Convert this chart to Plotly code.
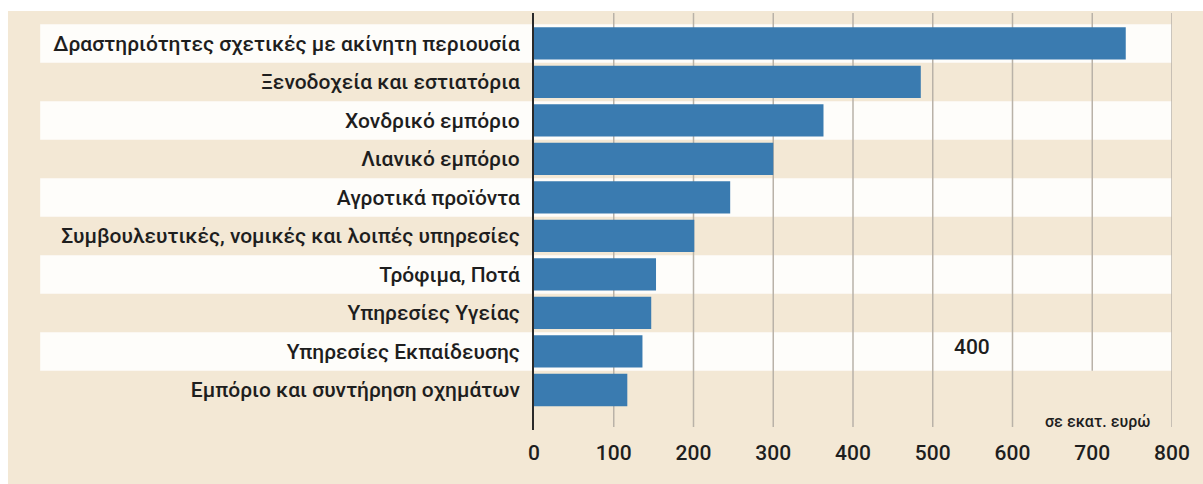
import plotly.graph_objects as go

categories = [
    "Δραστηριότητες σχετικές με ακίνητη περιουσία",
    "Ξενοδοχεία και εστιατόρια",
    "Χονδρικό εμπόριο",
    "Λιανικό εμπόριο",
    "Αγροτικά προϊόντα",
    "Συμβουλευτικές, νομικές και λοιπές υπηρεσίες",
    "Τρόφιμα, Ποτά",
    "Υπηρεσίες Υγείας",
    "Υπηρεσίες Εκπαίδευσης",
    "Εμπόριο και συντήρηση οχημάτων",
]
values = [742, 485, 363, 300, 246, 201, 153, 147, 136, 117]
tick_values = [0, 100, 200, 300, 400, 500, 600, 700, 800]
tick_labels = ["0", "100", "200", "300", "400", "500", "600", "700", "800"]
unit_label = "σε εκατ. ευρώ"
stray_label = "400"

BEIGE = "#F3E8D5"
WHITE = "#FEFDFA"
BLUE = "#3A7BB0"
GRID = "#B9B2A8"
TEXT = "#1E1E1E"
FONT = "Roboto, sans-serif"

fig = go.Figure()
fig.add_trace(go.Bar(
    y=categories, x=values, orientation="h",
    marker=dict(color=BLUE, line=dict(width=0)),
    width=0.84, hoverinfo="x+y",
))

shapes = []
# beige background panel
shapes.append(dict(type="rect", xref="paper", yref="paper",
                   x0=-0.8245, x1=1.06, y0=-0.14, y1=1.0048,
                   fillcolor=BEIGE, line=dict(width=0), layer="below"))
# alternating white bands
for i, c in enumerate(categories):
    if i % 2 == 0:
        shapes.append(dict(type="rect", xref="paper", yref="y",
                           x0=-0.774, x1=1.0, y0=i - 0.5, y1=i + 0.5,
                           fillcolor=WHITE, line=dict(width=0), layer="below"))
# gridlines
for v in tick_values[1:]:
    if v == 700:
        shapes.append(dict(type="line", xref="x", yref="y", x0=v, x1=v,
                           y0=8.5, y1=-0.79, line=dict(color=GRID, width=1.5), layer="below"))
    else:
        shapes.append(dict(type="line", xref="x", yref="paper", x0=v, x1=v,
                           y0=0.007, y1=1, line=dict(color=GRID, width=1.5), layer="below"))

fig.update_layout(
    width=1203, height=484,
    margin=dict(l=534, r=31, t=13, b=54, autoexpand=False),
    paper_bgcolor="white", plot_bgcolor="rgba(0,0,0,0)",
    showlegend=False,
    shapes=shapes,
    font=dict(family=FONT, color=TEXT),
    xaxis=dict(range=[0, 800], tickvals=tick_values, ticktext=tick_labels,
               showgrid=False, zeroline=False, showline=False, automargin=False,
               tickfont=dict(size=21, family=FONT, color=TEXT, weight=500),
               ticks="", ticklabelstandoff=8, fixedrange=True),
    yaxis=dict(type="category", range=[10.04, -0.79], automargin=False,
               showgrid=False, zeroline=False,
               showline=True, linecolor="#2A2A2A", linewidth=2,
               tickfont=dict(size=21, family=FONT, color=TEXT, weight=500),
               ticks="", ticklabelstandoff=8, fixedrange=True),
    annotations=[
        dict(x=706, y=0.04, xref="x", yref="paper", yanchor="middle", yshift=-8,
             text=unit_label, showarrow=False,
             font=dict(size=16, family=FONT, color=TEXT, weight=500)),
        dict(x=549, y=categories[8], xref="x", yref="y", text=stray_label,
             showarrow=False, yshift=4, font=dict(size=21, family=FONT, color=TEXT, weight=500)),
    ],
)

fig.write_html("out.html", config={"displayModeBar": False},
               post_script="document.body.style.margin='0';")
